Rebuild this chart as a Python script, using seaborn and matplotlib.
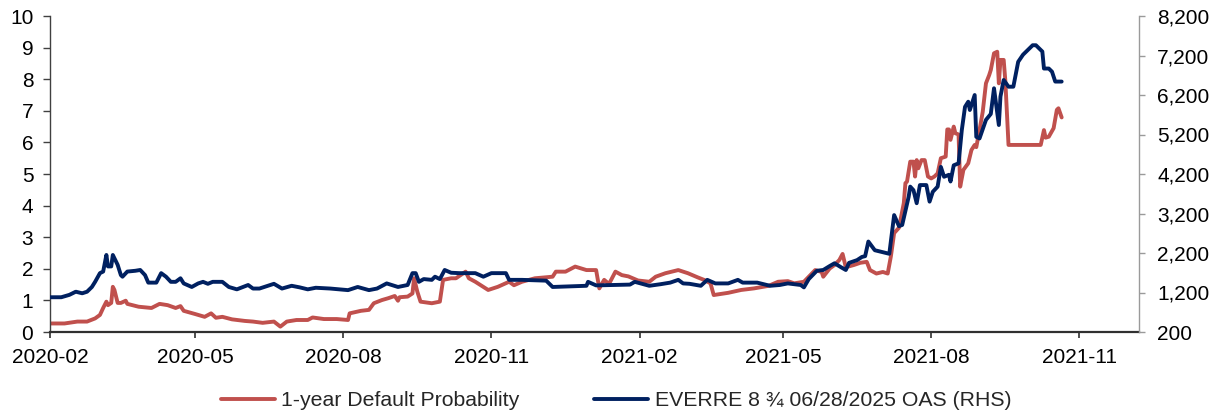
import matplotlib
matplotlib.use("Agg")
import matplotlib.pyplot as plt
import matplotlib.dates as mdates
import matplotlib.ticker as mticker
import seaborn as sns
import pandas as pd

# ---- data -----------------------------------------------------------------
pd_dates = [
    "2020-02-01", "2020-02-10", "2020-02-18", "2020-02-24", "2020-02-29", "2020-03-03",
    "2020-03-05", "2020-03-07", "2020-03-08", "2020-03-10", "2020-03-11", "2020-03-12",
    "2020-03-14", "2020-03-16", "2020-03-19", "2020-03-20", "2020-03-27", "2020-04-04",
    "2020-04-09", "2020-04-14", "2020-04-19", "2020-04-22", "2020-04-24", "2020-05-01",
    "2020-05-07", "2020-05-11", "2020-05-14", "2020-05-18", "2020-05-24", "2020-06-01",
    "2020-06-06", "2020-06-12", "2020-06-19", "2020-06-23", "2020-06-27", "2020-07-03",
    "2020-07-10", "2020-07-13", "2020-07-20", "2020-07-28", "2020-08-04", "2020-08-05",
    "2020-08-12", "2020-08-17", "2020-08-20", "2020-08-25", "2020-08-29", "2020-09-02",
    "2020-09-04", "2020-09-05", "2020-09-10", "2020-09-13", "2020-09-14", "2020-09-16",
    "2020-09-18", "2020-09-25", "2020-09-30", "2020-10-02", "2020-10-07", "2020-10-10",
    "2020-10-16", "2020-10-18", "2020-10-22", "2020-10-30", "2020-11-05", "2020-11-12",
    "2020-11-15", "2020-11-20", "2020-11-28", "2020-12-09", "2020-12-11", "2020-12-17",
    "2020-12-23", "2020-12-30", "2021-01-05", "2021-01-07", "2021-01-10", "2021-01-13",
    "2021-01-17", "2021-01-21", "2021-01-25", "2021-01-31", "2021-02-07", "2021-02-11",
    "2021-02-17", "2021-02-25", "2021-03-03", "2021-03-09", "2021-03-13", "2021-03-17",
    "2021-03-19", "2021-03-28", "2021-04-05", "2021-04-13", "2021-04-22", "2021-04-28",
    "2021-05-04", "2021-05-08", "2021-05-14", "2021-05-17", "2021-05-21", "2021-05-25",
    "2021-05-26", "2021-05-30", "2021-06-02", "2021-06-05", "2021-06-07", "2021-06-09",
    "2021-06-14", "2021-06-18", "2021-06-22", "2021-06-24", "2021-06-28", "2021-07-02",
    "2021-07-05", "2021-07-07", "2021-07-09", "2021-07-12", "2021-07-15", "2021-07-16",
    "2021-07-17", "2021-07-19", "2021-07-21", "2021-07-22", "2021-07-23", "2021-07-24",
    "2021-07-26", "2021-07-28", "2021-07-30", "2021-08-01", "2021-08-03", "2021-08-05",
    "2021-08-07", "2021-08-10", "2021-08-11", "2021-08-12", "2021-08-13", "2021-08-15",
    "2021-08-16", "2021-08-18", "2021-08-19", "2021-08-21", "2021-08-24", "2021-08-26",
    "2021-08-28", "2021-08-29", "2021-08-31", "2021-09-02", "2021-09-04", "2021-09-06",
    "2021-09-07", "2021-09-09", "2021-09-11", "2021-09-12", "2021-09-13", "2021-09-15",
    "2021-09-16", "2021-09-18", "2021-10-08", "2021-10-10", "2021-10-11", "2021-10-13",
    "2021-10-16", "2021-10-18", "2021-10-19", "2021-10-21",
]
default_prob = [
    0.27, 0.27, 0.33, 0.33, 0.43, 0.54,
    0.76, 0.96, 0.85, 0.92, 1.43, 1.33,
    0.92, 0.92, 0.99, 0.89, 0.80, 0.76,
    0.89, 0.85, 0.76, 0.82, 0.67, 0.57,
    0.48, 0.59, 0.45, 0.48, 0.40, 0.35,
    0.33, 0.29, 0.33, 0.17, 0.33, 0.38,
    0.38, 0.46, 0.41, 0.41, 0.38, 0.59,
    0.67, 0.70, 0.91, 1.01, 1.07, 1.14,
    0.99, 1.10, 1.12, 1.22, 1.70, 1.28,
    0.96, 0.91, 0.96, 1.65, 1.70, 1.70,
    1.91, 1.70, 1.59, 1.33, 1.43, 1.59,
    1.48, 1.59, 1.70, 1.75, 1.91, 1.91,
    2.07, 1.96, 1.96, 1.38, 1.65, 1.52,
    1.91, 1.80, 1.76, 1.63, 1.59, 1.75,
    1.86, 1.96, 1.86, 1.73, 1.65, 1.54,
    1.17, 1.24, 1.33, 1.38, 1.46, 1.59,
    1.61, 1.54, 1.59, 1.75, 1.96, 1.90,
    1.75, 2.01, 2.12, 2.28, 2.47, 2.05,
    2.12, 2.19, 2.22, 1.96, 1.85, 1.90,
    1.85, 2.40, 3.13, 3.30, 4.08, 4.71,
    4.76, 5.39, 5.39, 4.92, 5.44, 5.18,
    5.44, 5.44, 4.92, 4.86, 4.92, 5.02,
    5.50, 5.55, 6.41, 6.41, 6.08, 6.50,
    6.29, 6.25, 4.60, 5.13, 5.34, 5.76,
    5.92, 5.85, 6.39, 6.97, 7.87, 8.13,
    8.29, 8.82, 8.87, 7.87, 8.61, 8.61,
    7.97, 5.92, 5.92, 6.39, 6.15, 6.18,
    6.45, 7.03, 7.08, 6.79,
]

oas_dates = [
    "2020-02-01", "2020-02-08", "2020-02-13", "2020-02-17", "2020-02-21", "2020-02-24",
    "2020-02-27", "2020-02-29", "2020-03-03", "2020-03-05", "2020-03-07", "2020-03-08",
    "2020-03-10", "2020-03-11", "2020-03-14", "2020-03-16", "2020-03-17", "2020-03-20",
    "2020-03-25", "2020-03-28", "2020-03-31", "2020-04-02", "2020-04-07", "2020-04-10",
    "2020-04-13", "2020-04-16", "2020-04-19", "2020-04-22", "2020-04-24", "2020-04-29",
    "2020-05-03", "2020-05-06", "2020-05-09", "2020-05-12", "2020-05-18", "2020-05-22",
    "2020-05-27", "2020-06-03", "2020-06-06", "2020-06-10", "2020-06-19", "2020-06-24",
    "2020-06-30", "2020-07-05", "2020-07-10", "2020-07-15", "2020-07-24", "2020-08-04",
    "2020-08-10", "2020-08-17", "2020-08-22", "2020-08-28", "2020-09-04", "2020-09-10",
    "2020-09-13", "2020-09-15", "2020-09-17", "2020-09-20", "2020-09-25", "2020-09-27",
    "2020-09-30", "2020-10-03", "2020-10-07", "2020-10-12", "2020-10-22", "2020-10-27",
    "2020-11-01", "2020-11-10", "2020-11-12", "2020-11-20", "2020-12-05", "2020-12-09",
    "2020-12-30", "2020-12-31", "2021-01-05", "2021-01-26", "2021-01-29", "2021-02-07",
    "2021-02-14", "2021-02-20", "2021-02-25", "2021-02-28", "2021-03-04", "2021-03-11",
    "2021-03-15", "2021-03-20", "2021-03-28", "2021-04-03", "2021-04-06", "2021-04-15",
    "2021-04-23", "2021-04-29", "2021-05-04", "2021-05-12", "2021-05-14", "2021-05-17",
    "2021-05-22", "2021-05-26", "2021-05-30", "2021-06-02", "2021-06-06", "2021-06-09",
    "2021-06-11", "2021-06-16", "2021-06-19", "2021-06-21", "2021-06-23", "2021-06-27",
    "2021-07-01", "2021-07-06", "2021-07-09", "2021-07-12", "2021-07-14", "2021-07-18",
    "2021-07-19", "2021-07-21", "2021-07-23", "2021-07-25", "2021-07-29", "2021-07-31",
    "2021-08-02", "2021-08-05", "2021-08-07", "2021-08-09", "2021-08-12", "2021-08-13",
    "2021-08-15", "2021-08-18", "2021-08-20", "2021-08-22", "2021-08-24", "2021-08-25",
    "2021-08-28", "2021-08-29", "2021-08-31", "2021-09-04", "2021-09-07", "2021-09-09",
    "2021-09-12", "2021-09-13", "2021-09-15", "2021-09-18", "2021-09-21", "2021-09-24",
    "2021-09-27", "2021-09-30", "2021-10-03", "2021-10-05", "2021-10-07", "2021-10-09",
    "2021-10-10", "2021-10-13", "2021-10-15", "2021-10-17", "2021-10-21",
]
oas_bps = [
    1080, 1080, 1140, 1220, 1180, 1220,
    1340, 1470, 1690, 1730, 2150, 1860,
    1860, 2150, 1900, 1640, 1600, 1730,
    1750, 1770, 1640, 1450, 1450, 1690,
    1600, 1470, 1470, 1560, 1430, 1340,
    1430, 1470, 1420, 1470, 1470, 1340,
    1280, 1390, 1300, 1300, 1420, 1300,
    1370, 1330, 1280, 1320, 1300, 1260,
    1340, 1260, 1300, 1430, 1340, 1390,
    1690, 1690, 1470, 1540, 1520, 1600,
    1540, 1770, 1700, 1690, 1690, 1600,
    1690, 1690, 1520, 1520, 1500, 1340,
    1370, 1470, 1380, 1400, 1470, 1370,
    1410, 1450, 1520, 1430, 1420, 1370,
    1520, 1430, 1430, 1520, 1450, 1450,
    1370, 1390, 1430, 1390, 1330, 1540,
    1750, 1770, 1870, 1940, 1840, 1770,
    1950, 2020, 2100, 2120, 2490, 2270,
    2230, 2180, 3160, 2880, 2910, 3620,
    3880, 3790, 3460, 3920, 3920, 3500,
    3750, 3880, 4380, 4130, 4180, 4010,
    4420, 4470, 5310, 5900, 6030, 5820,
    6200, 5140, 5100, 5570, 5720, 6370,
    5440, 6160, 6580, 6410, 6410, 7040,
    7220, 7340, 7460, 7460, 7380, 7300,
    6870, 6870, 6790, 6540, 6540,
]

series_labels = ["1-year Default Probability", "EVERRE 8 \u00be 06/28/2025 OAS (RHS)"]
x_ticks = ["2020-02-01", "2020-05-01", "2020-08-01", "2020-11-01",
           "2021-02-01", "2021-05-01", "2021-08-01", "2021-11-01"]
left_ticks = list(range(0, 11))
right_ticks = list(range(200, 8201, 1000))

# ---- style ----------------------------------------------------------------
sns.set_theme(style="white")
plt.rcParams["font.family"] = ["Liberation Sans", "DejaVu Sans"]

red = "#C0504D"
navy = "#002060"

df_red = pd.DataFrame({"date": pd.to_datetime(pd_dates), "value": default_prob})
df_blue = pd.DataFrame({"date": pd.to_datetime(oas_dates), "value": oas_bps})

fig = plt.figure(figsize=(12.2, 4.12), dpi=100)
ax = fig.add_axes([50 / 1220, 1 - 332 / 412, (1139 - 50) / 1220, (332 - 16) / 412])
ax2 = ax.twinx()

sns.lineplot(data=df_red, x="date", y="value", ax=ax, color=red, linewidth=2.8,
             label=series_labels[0], legend=False)
sns.lineplot(data=df_blue, x="date", y="value", ax=ax2, color=navy, linewidth=2.8,
             label=series_labels[1], legend=False)

ax.set_xlim(pd.Timestamp("2020-02-01"), pd.Timestamp("2021-12-08"))
ax.set_ylim(0, 10)
ax2.set_ylim(200, 8200)
ax.set_yticks(left_ticks)
ax2.set_yticks(right_ticks)
ax2.yaxis.set_major_formatter(mticker.FuncFormatter(lambda v, p: f"{int(v):,}"))
ax.set_xticks(pd.to_datetime(x_ticks))
ax.xaxis.set_major_formatter(mdates.DateFormatter("%Y-%m"))

ax.set_xlabel("")
ax.set_ylabel("")
ax2.set_ylabel("")

for a in (ax, ax2):
    a.spines["top"].set_visible(False)
    a.grid(False)
ax.spines["right"].set_visible(False)
ax2.spines["left"].set_visible(False)
ax2.spines["bottom"].set_visible(False)
ax.spines["left"].set_color("#404040")
ax.spines["bottom"].set_color("#303030")
ax.spines["bottom"].set_linewidth(1.6)
ax.spines["left"].set_linewidth(1.0)
ax2.spines["right"].set_color("#9a9a9a")
ax2.spines["right"].set_linewidth(1.0)

ax.tick_params(axis="y", labelsize=15, labelcolor="black", direction="out",
               length=5, width=1, left=True, color="#404040", pad=7)
ax.tick_params(axis="x", labelsize=15, labelcolor="black", direction="out",
               length=4.5, width=1.2, bottom=True, color="#303030", pad=7)
ax2.tick_params(axis="y", labelsize=15, labelcolor="black", direction="out",
                length=4, width=1, right=True, color="#9a9a9a", pad=9)

h1, l1 = ax.get_legend_handles_labels()
h2, l2 = ax2.get_legend_handles_labels()
fig.legend(h1 + h2, l1 + l2, loc="center", bbox_to_anchor=(0.505, 0.027), ncol=2,
           frameon=False, fontsize=15.3, handlelength=2.55, handletextpad=0.3,
           columnspacing=3.5)

fig.savefig("out.png", dpi=100)
